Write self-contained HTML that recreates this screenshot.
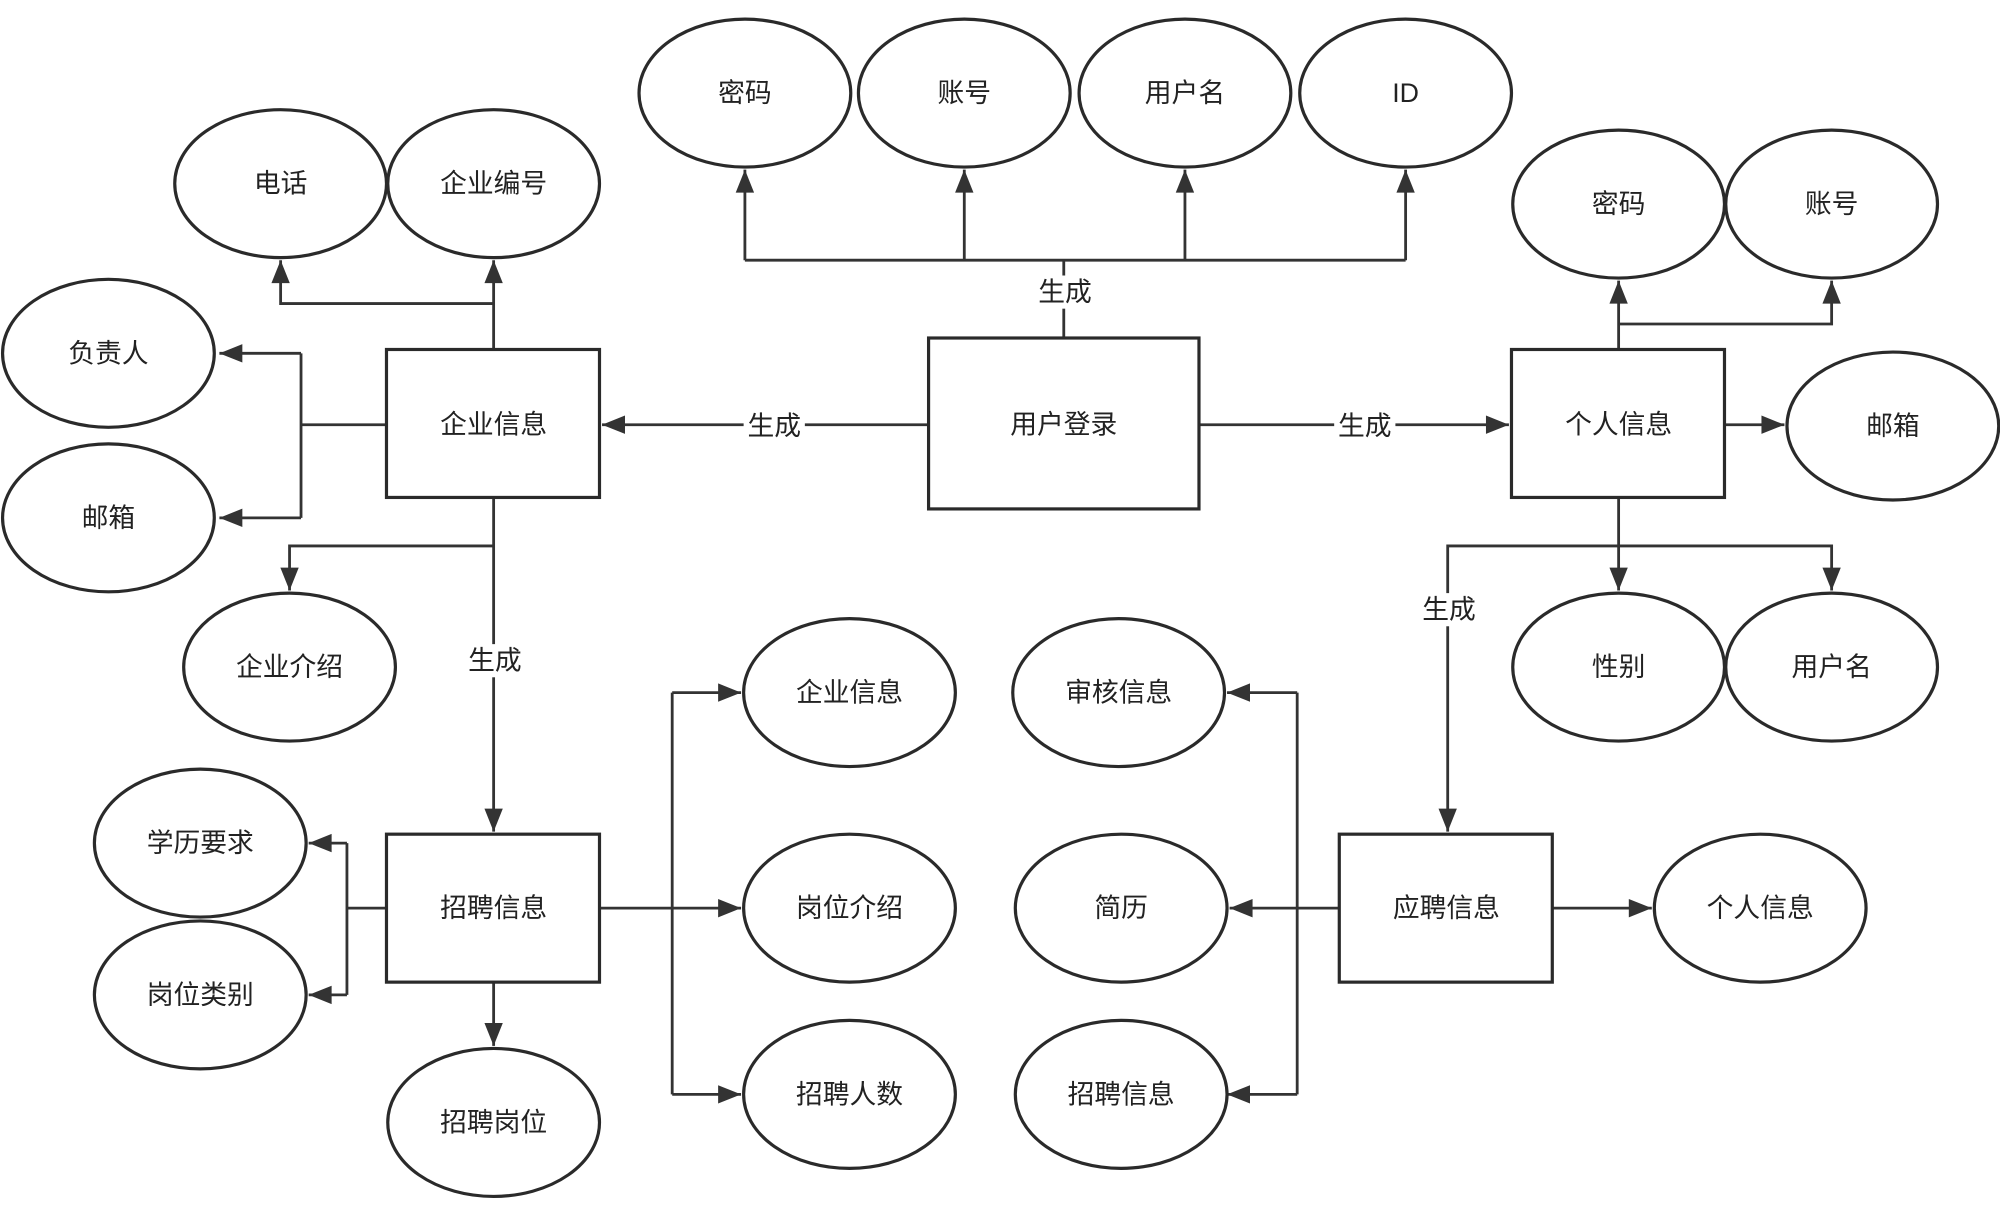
<!DOCTYPE html>
<html><head><meta charset="utf-8"><style>
html,body{margin:0;padding:0;background:#fff;}
svg{display:block;}
text{font-family:"Liberation Sans","Noto Sans CJK SC",sans-serif;font-size:21px;fill:#222;text-anchor:middle;dominant-baseline:central;}
.e,.r{fill:#fff;stroke:#2a2a2a;stroke-width:2.5;}
.l{fill:none;stroke:#333;stroke-width:2.2;}
</style></head><body>
<svg width="2000" height="1213" viewBox="0 0 1568 951" xmlns="http://www.w3.org/2000/svg">
<defs><marker id="a" viewBox="0 0 10 10" refX="10" refY="5" markerWidth="8" markerHeight="8" markerUnits="userSpaceOnUse" orient="auto"><path d="M0,0 L10,5 L0,10 z" fill="#333"/></marker>
<marker id="b" viewBox="0 0 10 10" refX="10" refY="5" markerWidth="20" markerHeight="18" markerUnits="userSpaceOnUse" orient="auto"><path d="M0,1 L10,5 L0,9 z" fill="#333"/></marker></defs>

<!-- lines -->
<g class="l">
<path d="M834 265V204M584 204H1102"/>
<path d="M584 204V133" marker-end="url(#b)"/><path d="M756 204V133" marker-end="url(#b)"/><path d="M929 204V133" marker-end="url(#b)"/><path d="M1102 204V133" marker-end="url(#b)"/>
<path d="M728 333H472" marker-end="url(#b)"/>
<path d="M940 333H1183" marker-end="url(#b)"/>
<path d="M387 274V204" marker-end="url(#b)"/><path d="M387 238H220V204" marker-end="url(#b)"/>
<path d="M303 333H236M236 277V406"/><path d="M236 277H172" marker-end="url(#b)"/><path d="M236 406H172" marker-end="url(#b)"/>
<path d="M387 390V652" marker-end="url(#b)"/><path d="M387 428H227V463" marker-end="url(#b)"/>
<path d="M303 712H272M272 661V780"/><path d="M272 661H242" marker-end="url(#b)"/><path d="M272 780H242" marker-end="url(#b)"/>
<path d="M387 770V820" marker-end="url(#b)"/>
<path d="M470 712H581" marker-end="url(#b)"/><path d="M527 543V858"/><path d="M527 543H581" marker-end="url(#b)"/><path d="M527 858H581" marker-end="url(#b)"/>
<path d="M1269 274V220" marker-end="url(#b)"/><path d="M1269 254H1436V220" marker-end="url(#b)"/>
<path d="M1352 333H1399" marker-end="url(#b)"/>
<path d="M1269 390V463" marker-end="url(#b)"/><path d="M1269 428H1436V463" marker-end="url(#b)"/><path d="M1269 428H1135V652" marker-end="url(#b)"/>
<path d="M1050 712H964" marker-end="url(#b)"/><path d="M1017 543V858"/><path d="M1017 543H962" marker-end="url(#b)"/><path d="M1017 858H962" marker-end="url(#b)"/>
<path d="M1217 712H1295" marker-end="url(#b)"/>
</g>

<!-- edge labels -->
<rect x="812" y="216" width="46" height="26" fill="#fff"/><text x="835" y="229">生成</text>
<rect x="583" y="321" width="48" height="26" fill="#fff"/><text x="607" y="334">生成</text>
<rect x="1046" y="321" width="48" height="26" fill="#fff"/><text x="1070" y="334">生成</text>
<rect x="364" y="505" width="46" height="26" fill="#fff"/><text x="388" y="518">生成</text>
<rect x="1112" y="465" width="46" height="26" fill="#fff"/><text x="1136" y="478">生成</text>

<!-- ellipses -->
<g class="e">
<ellipse cx="584" cy="73" rx="83" ry="58"/><ellipse cx="756" cy="73" rx="83" ry="58"/><ellipse cx="929" cy="73" rx="83" ry="58"/><ellipse cx="1102" cy="73" rx="83" ry="58"/>
<ellipse cx="220" cy="144" rx="83" ry="58"/><ellipse cx="387" cy="144" rx="83" ry="58"/>
<ellipse cx="85" cy="277" rx="83" ry="58"/><ellipse cx="85" cy="406" rx="83" ry="58"/>
<ellipse cx="227" cy="523" rx="83" ry="58"/>
<ellipse cx="1269" cy="160" rx="83" ry="58"/><ellipse cx="1436" cy="160" rx="83" ry="58"/>
<ellipse cx="1484" cy="334" rx="83" ry="58"/>
<ellipse cx="1269" cy="523" rx="83" ry="58"/><ellipse cx="1436" cy="523" rx="83" ry="58"/>
<ellipse cx="666" cy="543" rx="83" ry="58"/><ellipse cx="666" cy="712" rx="83" ry="58"/><ellipse cx="666" cy="858" rx="83" ry="58"/>
<ellipse cx="877" cy="543" rx="83" ry="58"/><ellipse cx="879" cy="712" rx="83" ry="58"/><ellipse cx="879" cy="858" rx="83" ry="58"/>
<ellipse cx="1380" cy="712" rx="83" ry="58"/>
<ellipse cx="157" cy="661" rx="83" ry="58"/><ellipse cx="157" cy="780" rx="83" ry="58"/>
<ellipse cx="387" cy="880" rx="83" ry="58"/>
</g>
<g class="r">
<rect x="303" y="274" width="167" height="116"/>
<rect x="728" y="265" width="212" height="134"/>
<rect x="1185" y="274" width="167" height="116"/>
<rect x="303" y="654" width="167" height="116"/>
<rect x="1050" y="654" width="167" height="116"/>
</g>

<text x="584" y="73">密码</text><text x="756" y="73">账号</text><text x="929" y="73">用户名</text><text x="1102" y="73">ID</text>
<text x="220" y="144">电话</text><text x="387" y="144">企业编号</text>
<text x="85" y="277">负责人</text><text x="85" y="406">邮箱</text>
<text x="227" y="523">企业介绍</text>
<text x="1269" y="160">密码</text><text x="1436" y="160">账号</text>
<text x="1484" y="334">邮箱</text>
<text x="1269" y="523">性别</text><text x="1436" y="523">用户名</text>
<text x="666" y="543">企业信息</text><text x="666" y="712">岗位介绍</text><text x="666" y="858">招聘人数</text>
<text x="877" y="543">审核信息</text><text x="879" y="712">简历</text><text x="879" y="858">招聘信息</text>
<text x="1380" y="712">个人信息</text>
<text x="157" y="661">学历要求</text><text x="157" y="780">岗位类别</text>
<text x="387" y="880">招聘岗位</text>
<text x="387" y="333">企业信息</text><text x="834" y="333">用户登录</text><text x="1269" y="333">个人信息</text>
<text x="387" y="712">招聘信息</text><text x="1134" y="712">应聘信息</text>
</svg>
</body></html>
